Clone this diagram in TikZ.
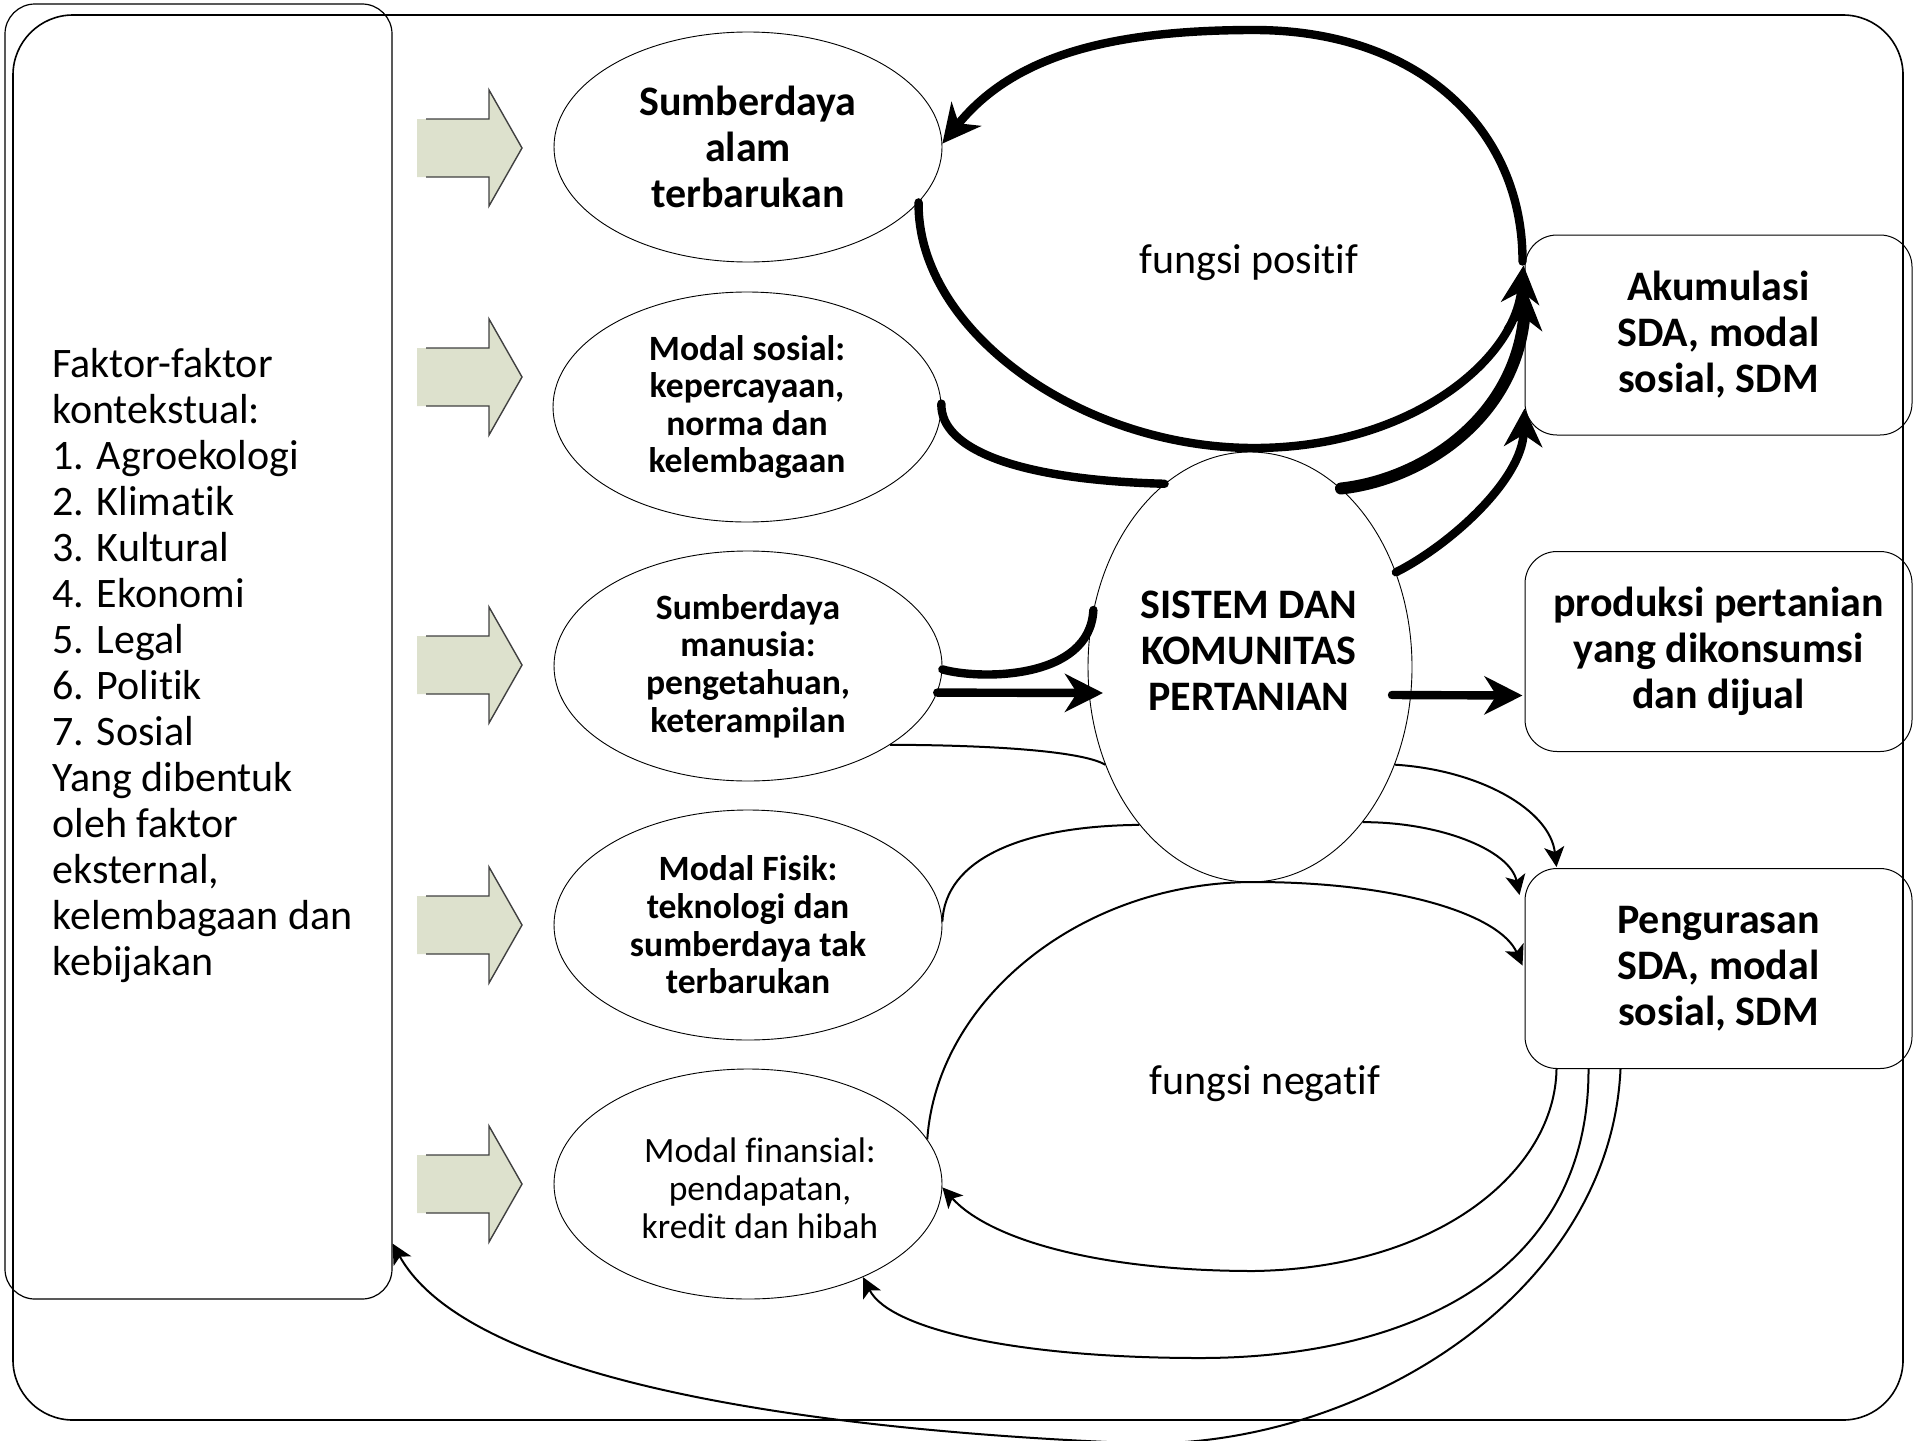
\documentclass[tikz,border=0pt]{standalone}
\usepackage{fontspec}
\setmainfont{Carlito}[Ligatures=NoCommon]
\usetikzlibrary{shapes.geometric,arrows.meta,calc}
\definecolor{blockfill}{RGB}{221,225,205}
\begin{document}
\begin{tikzpicture}[x=0.5pt,y=-0.5pt,
  frame/.style={draw, rectangle, inner sep=0pt},
  bigreg/.style={font={\fontsize{21pt}{23pt}\selectfont}, inner sep=0pt},
  bigbold/.style={font={\bfseries\fontsize{21pt}{23pt}\selectfont}, align=center, inner sep=0pt},
  smallbold/.style={font={\bfseries\fontsize{17.8pt}{18.8pt}\selectfont}, align=center, inner sep=0pt},
  smallreg/.style={font={\fontsize{17.8pt}{19pt}\selectfont}, align=center, inner sep=0pt},
  res/.style={ellipse, draw, line width=0.45pt, minimum width=194pt, minimum height=115pt, inner sep=0pt, align=center},
  rbox/.style={rectangle, draw, line width=0.5pt, rounded corners=16pt, minimum width=193.5pt, minimum height=100pt, inner sep=0pt, align=center, font={\bfseries\fontsize{21pt}{23pt}\selectfont}},
  blockfillst/.style={fill=blockfill, draw=none},
  blockline/.style={draw=black!75, line width=0.7pt, line join=miter},
  thickline/.style={line width=4.2pt, line cap=round},
  thickarrow/.style={line width=4.2pt, line cap=round, -{Stealth[length=19pt,width=19pt,inset=6pt]}},
  thickerarrow/.style={line width=6pt, line cap=round, -{Stealth[length=19pt,width=19pt,inset=6pt]}},
  thinline/.style={line width=1pt},
  thinarrow/.style={line width=1pt, -{Stealth[length=10pt,width=10pt,inset=2.5pt]}}
]
\useasboundingbox (0,0) rectangle (1920,1440);

% frames
\node[frame, line width=0.8pt, rounded corners=30pt, minimum width=945pt, minimum height=702.5pt] (outer) at (958,717.5) {};
\node[frame, line width=0.6pt, rounded corners=15pt, minimum width=193.5pt, minimum height=647.5pt] (leftbox) at (198.5,651.5) {};
\node[bigreg, align=left, anchor=west] (factors) at (52,666) {Faktor-faktor\\kontekstual:\\1. Agroekologi\\2. Klimatik\\3. Kultural\\4. Ekonomi\\5. Legal\\6. Politik\\7. Sosial\\Yang dibentuk\\oleh faktor\\eksternal,\\kelembagaan dan\\kebijakan};

% block arrows
\foreach \cy in {148,377,665,925,1184}{
  \path[blockfillst] (417,\cy-29) -- (489,\cy-29) -- (489,\cy-58) -- (522,\cy) -- (489,\cy+58) -- (489,\cy+29) -- (417,\cy+29) -- cycle;
  \draw[blockline] (426,\cy-29) -- (489,\cy-29) -- (489,\cy-58) -- (522,\cy) -- (489,\cy+58) -- (489,\cy+29) -- (426,\cy+29);
}

% resource ellipses
\node[res, bigbold] (e1) at (748,147) {Sumberdaya\\alam\\terbarukan};
\node[res, smallbold] (e2) at (747,407) {Modal sosial:\\kepercayaan,\\norma dan\\kelembagaan};
\node[res, smallbold] (e3) at (748,666) {Sumberdaya\\manusia:\\pengetahuan,\\keterampilan};
\node[res, smallbold] (e4) at (748,925) {Modal Fisik:\\teknologi dan\\sumberdaya tak\\terbarukan};
\node[res] (e5) at (748,1184) {};
\node[smallreg] (e5txt) at (760,1188) {Modal finansial:\\pendapatan,\\kredit dan hibah};

% central system
\node[ellipse, draw, line width=0.45pt, minimum width=162pt, minimum height=215pt, inner sep=0pt] (sys) at (1250,667) {};
\node[bigbold] (systxt) at (1249,651) {SISTEM DAN\\KOMUNITAS\\PERTANIAN};

% outcome boxes
\node[rbox] (akum) at (1718.5,335) {Akumulasi\\SDA, modal\\sosial, SDM};
\node[rbox] (prod) at (1718.5,651.5) {produksi pertanian\\yang dikonsumsi\\dan dijual};
\node[rbox] (peng) at (1718.5,968.5) {Pengurasan\\SDA, modal\\sosial, SDM};

% loop labels
\node[bigreg, anchor=base] (fpos) at (1249,273) {fungsi positif};
\node[bigreg, anchor=base] (fneg) at (1265,1094) {fungsi negatif};

% positive loop (thick)
\draw[thickarrow] (e1.-18.6) .. controls (917,330) and (1080,448) .. (1254,448) .. controls (1410,448) and (1515,360) .. ($(akum.north west)+(-1,31)$);
\draw[thickarrow] ($(akum.north west)+(-2,27)$) .. controls (1523,130) and (1420,30) .. (1254,30) .. controls (1100,30) and (1010,60) .. (e1.1);
\draw[thickerarrow] (sys.63) .. controls (1420,480) and (1515,420) .. ($(akum.north west)+(2,57)$);
\draw[thickarrow] (sys.33.6) .. controls (1450,545) and (1522,480) .. ($(akum.south west)+(0,-27)$);
\draw[thickline] (e2.1) .. controls (940,450) and (1020,480) .. (sys.115.7);
\draw[thickline] (e3.-1) .. controls (980,680) and (1090,680) .. (sys.160.7);
\draw[thickarrow] (e3.-8) -- ($(sys.center)+(-147,26)$);
\draw[thickarrow] ($(sys.center)+(142,28)$) -- ($(prod.west)+(-2,44)$);

% thin connectors
\draw[thinline] (e3.-29.4) .. controls (980,745) and (1080,750) .. (sys.-146);
\draw[thinline] (e4.1) .. controls (945,860) and (1020,826) .. (sys.-125);
\draw[thinarrow] (sys.-34.3) .. controls (1480,770) and (1550,810) .. ($(peng.north west)+(32,-1)$);
\draw[thinarrow] (sys.-54.2) .. controls (1440,822) and (1510,850) .. ($(peng.north west)+(-5,27)$);
\draw[thinarrow] (e5.14) .. controls (937,1000) and (1080,882) .. (1254,882) .. controls (1400,882) and (1500,915) .. ($(peng.west)+(-2,-3)$);
\draw[thinarrow] ($(peng.south west)+(32,0)$) .. controls (1555,1170) and (1440,1268) .. (1254,1271) .. controls (1100,1271) and (990,1240) .. (e5.-1);
\draw[thinarrow] ($(peng.south west)+(64,0)$) .. controls (1589,1280) and (1400,1358) .. (1200,1358) .. controls (1020,1358) and (890,1330) .. (e5.-39.2);
\draw[thinarrow] ($(peng.south west)+(96,0)$) .. controls (1610,1300) and (1350,1452) .. (1130,1443) .. controls (910,1434) and (480,1400) .. ($(leftbox.south east)+(0,-56)$);
\end{tikzpicture}
\end{document}
